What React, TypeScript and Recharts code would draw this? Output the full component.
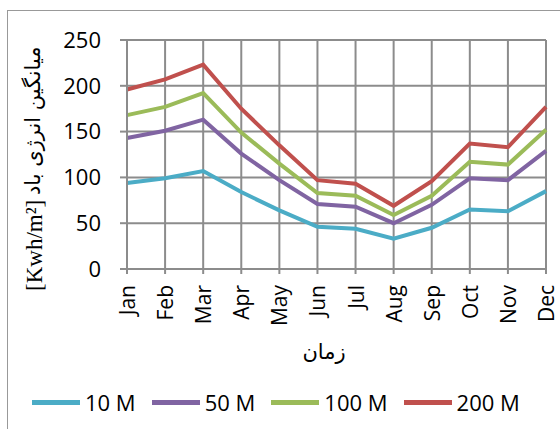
import React from "react";
import { LineChart, Line, XAxis, YAxis, CartesianGrid } from "recharts";

const months = ["Jan", "Feb", "Mar", "Apr", "May", "Jun", "Jul", "Aug", "Sep", "Oct", "Nov", "Dec"];
const m10 = [94, 99, 107, 84, 64, 46, 44, 33, 45, 65, 63, 85];
const m50 = [143, 151, 163, 126, 97, 71, 68, 50, 70, 99, 97, 129];
const m100 = [168, 177, 192, 149, 115, 83, 80, 59, 80, 117, 114, 152];
const m200 = [196, 207, 223, 175, 135, 97, 93, 69, 96, 137, 133, 177];
const yTicks = [0, 50, 100, 150, 200, 250];

const seriesNames = ["10 M", "50 M", "100 M", "200 M"];
const seriesKeys = ["m10", "m50", "m100", "m200"];
const seriesColors = ["#4BACC6", "#8064A2", "#9BBB59", "#C0504D"];

const data = months.map((m, i) => ({
  month: m,
  m10: m10[i],
  m50: m50[i],
  m100: m100[i],
  m200: m200[i],
}));

const GRID = "#8c8c8c";
const FONT = "'Open Sans', 'Noto Sans', sans-serif";

const XTick = (props: any) => {
  const { x, payload } = props;
  const ty = 285;
  return (
    <text
      x={x}
      y={ty}
      transform={`rotate(-90, ${x}, ${ty})`}
      textAnchor="end"
      dominantBaseline="central"
      fontFamily={FONT}
      fontSize={21}
      fill="#000"
    >
      {payload.value}
    </text>
  );
};

const YLabel = () => (
  <g>
    <text
      transform="rotate(-90)"
      x={-291}
      y={42}
      textAnchor="start"
      fontFamily="'Liberation Serif', serif"
      fontSize={23}
      fill="#000"
    >
      [Kwh/m²]
    </text>
    <text
      transform="rotate(-90)"
      x={-195}
      y={40}
      textAnchor="start"
      fontFamily="'DejaVu Sans', sans-serif"
      fontSize={21}
      fill="#000"
    >
      میانگین انرژی باد
    </text>
  </g>
);

const XLabel = () => (
  <text
    x={324}
    y={359}
    textAnchor="middle"
    fontFamily="'DejaVu Sans', sans-serif"
    fontSize={21}
    fill="#000"
  >
    زمان
  </text>
);

const ChartLegend = () => (
  <div
    style={{
      position: "absolute",
      left: 32,
      top: 390,
      display: "flex",
      alignItems: "center",
      fontFamily: FONT,
      fontSize: 22,
      color: "#000",
      whiteSpace: "nowrap",
    }}
  >
    {seriesNames.map((n, i) => (
      <div key={n} style={{ display: "flex", alignItems: "center", marginRight: 16 }}>
        <div style={{ width: 48, height: 5, background: seriesColors[i], marginRight: 5 }} />
        <span style={{ lineHeight: "24px" }}>{n}</span>
      </div>
    ))}
  </div>
);

export default function App() {
  return (
    <div style={{ position: "absolute", left: 0, top: 0, width: 560, height: 429, background: "#fff", overflow: "hidden" }}>
      <div
        style={{
          position: "absolute",
          left: 7,
          top: 10,
          width: 600,
          height: 500,
          borderLeft: "1.5px solid #999",
          borderTop: "1.5px solid #999",
        }}
      />
      <div style={{ position: "absolute", left: 0, top: 0 }}>
        <LineChart width={560} height={429} data={data} margin={{ top: 40, right: 14, bottom: 30, left: 27 }}>
          <CartesianGrid stroke={GRID} strokeWidth={2} vertical={true} horizontal={true} />
          <XAxis
            dataKey="month"
            height={130}
            interval={0}
            tick={<XTick />}
            tickSize={5}
            axisLine={{ stroke: GRID, strokeWidth: 2 }}
            tickLine={{ stroke: GRID, strokeWidth: 2 }}
            label={<XLabel />}
          />
          <YAxis
            width={100}
            domain={[0, 250]}
            ticks={yTicks}
            interval={0}
            tickSize={7}
            tickMargin={19}
            tick={{ fontFamily: FONT, fontSize: 22, fill: "#000" }}
            axisLine={{ stroke: GRID, strokeWidth: 2 }}
            tickLine={{ stroke: GRID, strokeWidth: 2 }}
            label={<YLabel />}
          />
          {seriesKeys.map((k, i) => (
            <Line
              key={k}
              type="linear"
              dataKey={k}
              name={seriesNames[i]}
              stroke={seriesColors[i]}
              strokeWidth={4}
              dot={false}
              activeDot={false}
              isAnimationActive={false}
            />
          ))}
        </LineChart>
      </div>
      <ChartLegend />
    </div>
  );
}
